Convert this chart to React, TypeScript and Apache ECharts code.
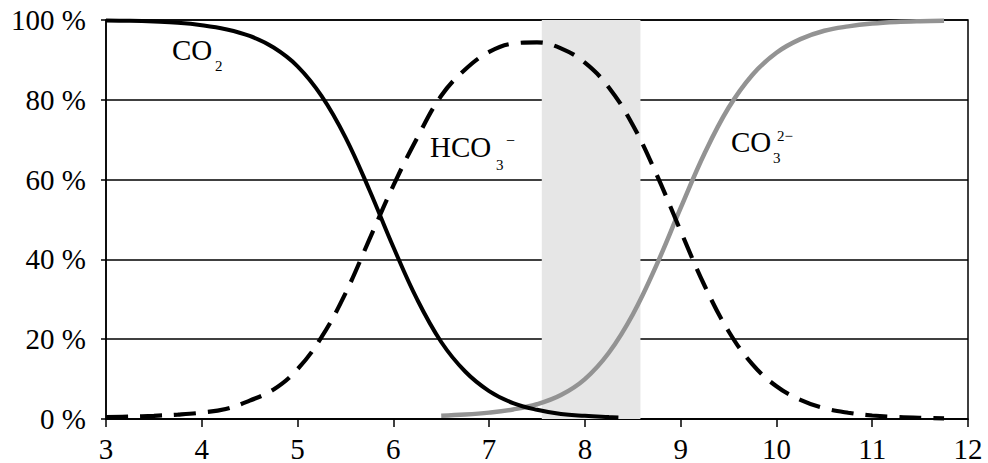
import React, { useEffect, useRef } from "react";
import * as echarts from "echarts";

// pH values and fractions (%)
const co2X = [3, 3.25, 3.5, 3.75, 4, 4.25, 4.5, 4.75, 5, 5.25, 5.5, 5.75, 6, 6.25, 6.5, 6.75, 7, 7.25, 7.5, 7.75, 8, 8.25, 8.35];
const co2Y = [99.9, 99.8, 99.6, 99.3, 98.7, 97.7, 96.0, 93.1, 88.4, 81.0, 70.6, 57.4, 43.1, 29.9, 19.3, 11.9, 7.0, 4.0, 2.3, 1.25, 0.8, 0.5, 0.4];

const hco3X = [3, 3.25, 3.5, 3.75, 4, 4.25, 4.5, 4.75, 5, 5.25, 5.5, 5.75, 6, 6.25, 6.5, 6.75, 7, 7.25, 7.5, 7.75, 8, 8.25, 8.5, 8.75, 9, 9.25, 9.5, 9.75, 10, 10.25, 10.5, 10.75, 11, 11.25, 11.5, 11.75];
const hco3Y = [0.5, 0.6, 0.8, 1.1, 1.6, 2.5, 4.6, 7.4, 12.5, 20.5, 31.5, 45.0, 58.5, 70.5, 81.0, 87.6, 92.0, 94.1, 94.4, 92.9, 89.3, 83.1, 73.7, 61.2, 47.1, 33.4, 22.0, 13.7, 8.2, 4.8, 2.7, 1.56, 0.88, 0.5, 0.28, 0.16];

const co3X = [6.5, 6.75, 7, 7.25, 7.5, 7.75, 8, 8.25, 8.5, 8.75, 9, 9.25, 9.5, 9.75, 10, 10.25, 10.5, 10.75, 11, 11.25, 11.5, 11.75];
const co3Y = [0.8, 1.1, 1.6, 2.4, 3.7, 6.0, 10.0, 16.6, 26.2, 38.7, 52.9, 66.6, 78.0, 86.3, 91.8, 95.2, 97.3, 98.4, 99.1, 99.5, 99.7, 99.8];

const shadeRange = [7.55, 8.58];
const xTicks = { min: 3, max: 12, interval: 1 };
const yTicks = { min: 0, max: 100, interval: 20 };

const FONT = "Liberation Serif";

export default function App() {
  const ref = useRef<HTMLDivElement>(null);
  useEffect(() => {
    if (!ref.current) return;
    const chart = echarts.init(ref.current, undefined, { renderer: "svg" });
    const zip = (xs: number[], ys: number[]) => xs.map((x, i) => [x, ys[i]]);
    const txt = (text: string, x: number, y: number, size: number) => ({
      type: "text",
      x,
      y,
      silent: true,
      style: { text, fontFamily: FONT, fontSize: size, fill: "#000", verticalAlign: "middle", align: "left" },
    });
    chart.setOption({
      animation: false,
      backgroundColor: "#fff",
      grid: { left: 106, right: 20, top: 20, bottom: 42, show: true, borderColor: "#000", borderWidth: 1.5, backgroundColor: "transparent" },
      xAxis: {
        type: "value",
        min: xTicks.min,
        max: xTicks.max,
        interval: xTicks.interval,
        axisLine: { show: true, lineStyle: { color: "#000", width: 1.5 } },
        axisTick: { show: true, length: 8, lineStyle: { color: "#000", width: 1.5 } },
        axisLabel: { color: "#000", fontFamily: FONT, fontSize: 29, margin: 15 },
        splitLine: { show: false },
      },
      yAxis: {
        type: "value",
        min: yTicks.min,
        max: yTicks.max,
        interval: yTicks.interval,
        axisLine: { show: true, lineStyle: { color: "#000", width: 1.5 } },
        axisTick: { show: true, length: 5, lineStyle: { color: "#000", width: 1.5 } },
        axisLabel: { color: "#000", fontFamily: FONT, fontSize: 29, margin: 20, formatter: "{value} %" },
        splitLine: { show: true, lineStyle: { color: "#000", width: 1.5 } },
      },
      series: [
        {
          type: "line",
          z: -1,
          data: [],
          markArea: {
            silent: true,
            itemStyle: { color: "#e6e6e6" },
            data: [[{ xAxis: shadeRange[0] }, { xAxis: shadeRange[1] }]],
          },
        },
        {
          name: "CO3",
          type: "line",
          data: zip(co3X, co3Y),
          smooth: 0.4,
          showSymbol: false,
          lineStyle: { color: "#939393", width: 4.5 },
        },
        {
          name: "HCO3",
          type: "line",
          data: zip(hco3X, hco3Y),
          smooth: 0.4,
          showSymbol: false,
          lineStyle: { color: "#000", width: 4.2, type: [22, 12] },
        },
        {
          name: "CO2",
          type: "line",
          data: zip(co2X, co2Y),
          smooth: 0.4,
          showSymbol: false,
          lineStyle: { color: "#000", width: 4 },
        },
      ],
      graphic: [
        txt("CO", 172, 50, 29),
        txt("2", 215, 66, 15),
        txt("HCO", 430, 147, 29),
        txt("3", 496, 165, 15),
        txt("\u2212", 506, 140, 16),
        txt("CO", 731, 142, 29),
        txt("3", 773, 158, 15),
        txt("2\u2212", 777, 136, 15),
      ],
    });
    return () => chart.dispose();
  }, []);
  return <div ref={ref} style={{ width: 988, height: 463, position: "absolute", left: 0, top: 0 }} />;
}
